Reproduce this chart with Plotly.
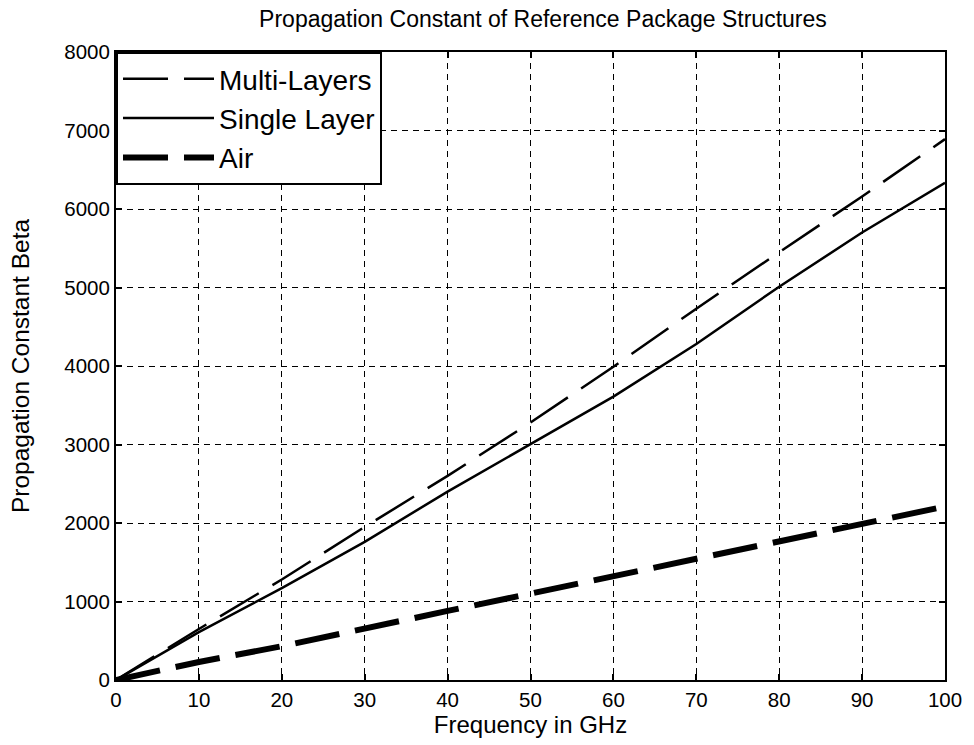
import plotly.graph_objects as go

freq_ghz = [0, 10, 20, 30, 40, 50, 60, 70, 80, 90, 100]
multi_layers = [0, 650, 1280, 1950, 2600, 3280, 3990, 4730, 5450, 6160, 6890]
single_layer = [0, 610, 1170, 1760, 2400, 3010, 3610, 4280, 5010, 5700, 6335]
air = [0, 230, 430, 660, 880, 1100, 1320, 1540, 1770, 1990, 2210]

x_ticks = list(range(0, 101, 10))
y_ticks = list(range(0, 8001, 1000))

FONT = "Liberation Sans, Arial, sans-serif"

fig = go.Figure()
fig.add_trace(go.Scatter(x=freq_ghz, y=multi_layers, mode="lines", name="Multi-Layers",
                         line=dict(color="black", width=2.5, dash="45px,16px")))
fig.add_trace(go.Scatter(x=freq_ghz, y=single_layer, mode="lines", name="Single Layer",
                         line=dict(color="black", width=2.5)))
fig.add_trace(go.Scatter(x=freq_ghz, y=air, mode="lines", name="Air",
                         line=dict(color="black", width=6, dash="45px,16px")))

axis_common = dict(
    showline=True, linecolor="black", linewidth=2, mirror="allticks",
    ticks="inside", ticklen=6, tickwidth=2, tickcolor="black",
    showgrid=True, gridcolor="black", gridwidth=1.2, griddash="6px,5px",
    zeroline=False, tickfont=dict(family=FONT, size=20.5, color="black"),
)

fig.update_xaxes(range=[0, 100], tickvals=x_ticks,
                 title=dict(text="Frequency in GHz", font=dict(family=FONT, size=24, color="black"), standoff=6),
                 **axis_common)
fig.update_yaxes(range=[0, 8000], tickvals=y_ticks,
                 title=dict(text="Propagation Constant Beta", font=dict(family=FONT, size=24.5, color="black"), standoff=28),
                 **axis_common)

fig.update_layout(
    width=974, height=745,
    margin=dict(l=116, r=24, t=52, b=64),
    paper_bgcolor="white", plot_bgcolor="white",
    title=dict(text="Propagation Constant of Reference Package Structures",
               font=dict(family=FONT, size=23, color="black"),
               x=0.515, xref="paper", xanchor="center", y=0.975, yanchor="middle"),
    legend=dict(x=0, y=1, xanchor="left", yanchor="top",
                bgcolor="white", bordercolor="black", borderwidth=2,
                font=dict(family=FONT, size=28, color="black"),
                itemwidth=91, tracegroupgap=0),
    showlegend=True,
)

fig.write_html("out.html")
